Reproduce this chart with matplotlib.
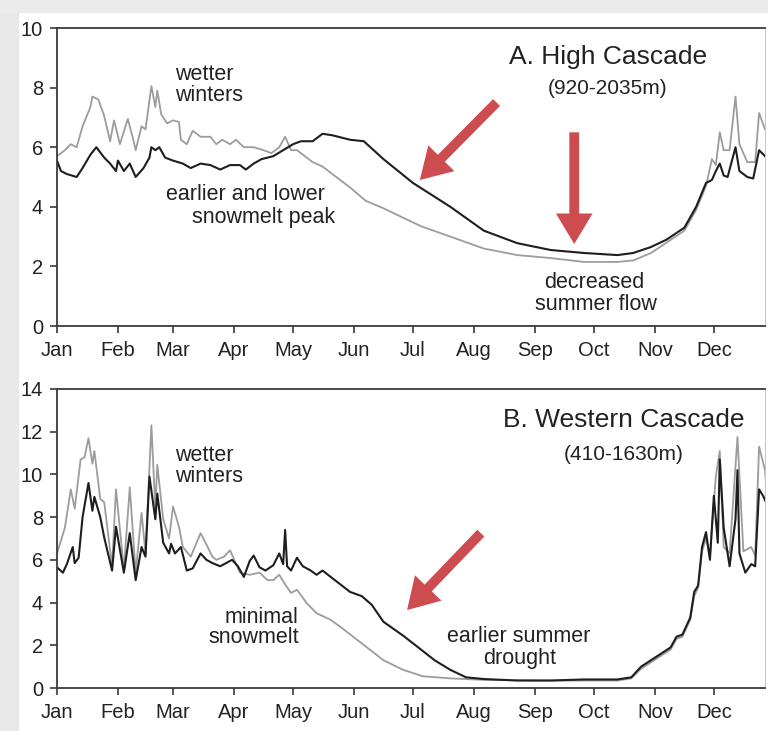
import numpy as np
import matplotlib.pyplot as plt
from matplotlib.patches import Rectangle

plt.rcParams['font.family'] = ['Liberation Sans', 'DejaVu Sans']

# month tick positions (day of year) and labels
month_days = [0, 31, 59, 90, 120, 151, 181, 212, 243, 273, 304, 334]
month_labels = ["Jan", "Feb", "Mar", "Apr", "May", "Jun",
                "Jul", "Aug", "Sep", "Oct", "Nov", "Dec"]

# A. High Cascade - wetter (grey) series
a_wet_day = [0, 4, 7, 10, 13, 17, 18, 21, 24, 27, 29, 32, 36, 39, 40, 43, 45, 48, 50, 51,
             53, 56, 59, 62, 63, 66, 69, 73, 78, 81, 84, 88, 91, 95, 100, 105, 109, 113, 116, 119,
             122, 126, 130, 135, 140, 149, 157, 166, 185, 200, 217, 234, 251, 268, 285, 293, 302, 310, 319, 325,
             330, 333, 335, 337, 339, 342, 345, 347, 351, 355, 357, 360]
a_wet_val = [5.7, 5.9, 6.1, 6.0, 6.7, 7.35, 7.7, 7.6, 7.05, 6.2, 6.9, 6.1, 6.95, 6.2, 5.9, 6.7, 6.6, 8.05, 7.35, 7.9,
             7.1, 6.8, 6.9, 6.85, 6.25, 6.1, 6.55, 6.35, 6.35, 6.1, 6.25, 6.1, 6.25, 6.0, 6.0, 5.9, 5.8, 6.0, 6.35, 5.9,
             5.9, 5.7, 5.5, 5.35, 5.1, 4.65, 4.2, 3.95, 3.35, 3.0, 2.6, 2.38, 2.28, 2.15, 2.15, 2.2, 2.45, 2.8, 3.2, 3.9,
             4.7, 5.6, 5.4, 6.5, 5.9, 5.9, 7.7, 6.1, 5.5, 5.5, 7.15, 6.6]

# A. High Cascade - historic (black) series
a_hist_day = [0, 2, 5, 10, 13, 17, 20, 24, 27, 30, 31, 34, 37, 40, 44, 47, 48, 50, 52, 55,
              59, 64, 68, 73, 78, 83, 88, 93, 96, 100, 104, 110, 115, 120, 124, 130, 135, 140, 149, 156,
              161, 166, 181, 200, 217, 234, 251, 268, 285, 293, 302, 310, 319, 325, 330, 333, 335, 337, 339, 341,
              345, 347, 351, 354, 357, 360]
a_hist_val = [5.55, 5.2, 5.1, 5.0, 5.3, 5.75, 6.0, 5.65, 5.45, 5.2, 5.55, 5.2, 5.45, 5.0, 5.3, 5.65, 6.0, 5.9, 6.0, 5.65,
              5.55, 5.45, 5.3, 5.45, 5.4, 5.25, 5.4, 5.4, 5.25, 5.45, 5.6, 5.7, 5.9, 6.1, 6.2, 6.2, 6.45, 6.4, 6.25, 6.2,
              5.9, 5.6, 4.8, 4.0, 3.2, 2.78, 2.55, 2.45, 2.38, 2.45, 2.65, 2.9, 3.3, 4.0, 4.8, 4.9, 5.2, 5.45, 5.05, 5.0,
              6.0, 5.2, 5.0, 4.95, 5.9, 5.7]

# B. Western Cascade - wetter (grey) series
b_wet_day = [0, 4, 7, 9, 12, 14, 16, 18, 19, 22, 24, 28, 30, 34, 37, 40, 43, 45, 48, 50,
             51, 54, 57, 59, 62, 64, 68, 73, 75, 79, 81, 85, 88, 93, 98, 103, 107, 110, 113, 116,
             119, 122, 127, 132, 139, 145, 152, 159, 166, 176, 186, 200, 217, 250, 285, 292, 297, 302, 307, 312,
             315, 318, 322, 324, 326, 328, 330, 332, 335, 337, 339, 342, 346, 349, 353, 355, 357, 360, 362]
b_wet_val = [6.3, 7.5, 9.3, 8.4, 10.7, 10.8, 11.7, 10.5, 11.1, 8.85, 8.7, 5.7, 9.3, 5.55, 9.4, 5.4, 8.2, 6.3, 12.3, 8.4,
             10.45, 7.9, 7.0, 8.5, 7.55, 6.6, 6.15, 7.25, 6.9, 6.15, 6.0, 6.15, 6.45, 5.4, 5.3, 5.4, 5.05, 5.05, 5.3, 4.85,
             4.45, 4.6, 3.97, 3.5, 3.2, 2.8, 2.3, 1.8, 1.3, 0.85, 0.55, 0.45, 0.38, 0.35, 0.35, 0.45, 0.9, 1.2, 1.5, 1.8,
             2.3, 2.4, 3.2, 4.3, 4.7, 6.4, 7.0, 6.2, 9.9, 11.1, 6.6, 6.3, 11.75, 6.4, 6.6, 6.2, 11.3, 10.2, 7.8]

# B. Western Cascade - historic (black) series
b_hist_day = [0, 3, 5, 8, 9, 11, 13, 16, 18, 19, 22, 24, 28, 30, 34, 37, 40, 43, 45, 47,
              50, 51, 54, 57, 58, 60, 63, 66, 69, 73, 76, 79, 83, 86, 89, 92, 95, 98, 100, 103,
              106, 110, 113, 115, 116, 117, 119, 122, 125, 129, 132, 135, 142, 149, 155, 160, 166, 176, 183, 192,
              200, 208, 217, 234, 251, 268, 285, 292, 297, 302, 307, 312, 315, 318, 322, 324, 326, 328, 330, 332,
              334, 336, 337, 339, 342, 345, 346, 347, 350, 353, 355, 357, 359, 362]
b_hist_val = [5.65, 5.4, 5.8, 6.6, 5.85, 6.1, 8.0, 9.6, 8.3, 8.95, 8.0, 7.05, 5.5, 7.55, 5.4, 7.25, 5.05, 6.6, 6.15, 9.9,
              7.9, 9.1, 6.8, 6.3, 6.75, 6.3, 6.6, 5.5, 5.6, 6.3, 6.0, 5.85, 5.7, 5.85, 6.0, 5.7, 5.2, 5.95, 6.2, 5.65,
              5.5, 5.75, 6.3, 5.8, 7.4, 5.7, 5.5, 6.1, 5.7, 5.5, 5.3, 5.5, 5.0, 4.5, 4.3, 3.9, 3.1, 2.45, 1.95, 1.3,
              0.85, 0.5, 0.42, 0.35, 0.35, 0.4, 0.4, 0.5, 1.0, 1.3, 1.6, 1.9, 2.4, 2.5, 3.3, 4.5, 4.8, 6.6, 7.3, 6.0,
              9.0, 6.8, 10.7, 7.5, 5.7, 7.9, 10.2, 6.3, 5.4, 5.8, 5.7, 9.3, 9.0, 8.4]

GREY = "#9c9c9c"
BLACK = "#1e1e1e"
RED = "#c8383c"
FRAME = "#3a3a3a"

fig = plt.figure(figsize=(7.68, 7.31), dpi=100, facecolor="white")
# faint grey border of the scanned slide
fig.patches.append(Rectangle((0, 0), 18 / 768, 1, transform=fig.transFigure,
                             color="#e8e8e8", zorder=-10))
fig.patches.append(Rectangle((0, 1 - 12 / 731), 1, 12 / 731, transform=fig.transFigure,
                             color="#ebebeb", zorder=-10))

ax1 = fig.add_axes([57 / 768, 1 - 326 / 731, 708 / 768, 298 / 731])
ax2 = fig.add_axes([57 / 768, 1 - 688 / 731, 708 / 768, 299 / 731])


def style(ax, ymax):
    ax.set_xlim(0, 360)
    ax.set_ylim(0, ymax)
    ax.set_xticks(month_days)
    ax.set_xticklabels(month_labels)
    ax.set_yticks(np.arange(0, ymax + 1, 2))
    for s in ax.spines.values():
        s.set_color(FRAME)
        s.set_linewidth(1.3)
    ax.spines["right"].set_linewidth(0.6)
    ax.spines["right"].set_color("#bbbbbb")
    ax.tick_params(direction="out", length=5, width=1.2, color=FRAME,
                   labelsize=14.5, labelcolor="#222222")
    ax.tick_params(axis="x", pad=6)
    ax.tick_params(axis="y", pad=5)


def arrow(ax, tail, tip):
    ax.annotate("", xy=tip, xytext=tail,
                arrowprops=dict(arrowstyle="simple,head_width=1.2,head_length=1.0,tail_width=0.32",
                                mutation_scale=22, color=RED, alpha=0.9,
                                shrinkA=0, shrinkB=0, lw=0))


# panel A
ax1.plot(a_wet_day, a_wet_val, color=GREY, lw=1.3)
ax1.plot(a_hist_day, a_hist_val, color=BLACK, lw=1.5)
style(ax1, 10)
txt = dict(fontsize=15.5, color="#222222")
ax1.text(60, 8.1, "wetter\nwinters", ha="left", va="center", linespacing=1.0, **txt)
ax1.text(96, 4.4, "earlier and lower", ha="center", va="center", **txt)
ax1.text(105, 3.65, "snowmelt peak", ha="center", va="center", **txt)
ax1.text(273, 1.45, "decreased", ha="center", va="center", **txt)
ax1.text(274, 0.72, "summer flow", ha="center", va="center", **txt)
ax1.text(280, 9.03, "A. High Cascade", ha="center", va="center", fontsize=19, color="#222222")
ax1.text(280, 7.98, "(920-2035m)", ha="center", va="center", fontsize=15, color="#222222")
arrow(ax1, (223.5, 7.5), (184.5, 4.9))
arrow(ax1, (263, 6.5), (263, 2.75))

# panel B
ax2.plot(b_wet_day, b_wet_val, color=GREY, lw=1.3)
ax2.plot(b_hist_day, b_hist_val, color=BLACK, lw=1.5)
style(ax2, 14)
ax2.text(60, 10.4, "wetter\nwinters", ha="left", va="center", linespacing=1.0, **txt)
ax2.text(123, 3.3, "minimal", ha="right", va="center", **txt)
ax2.text(123, 2.35, "snowmelt", ha="right", va="center", **txt)
ax2.text(235, 2.4, "earlier summer", ha="center", va="center", **txt)
ax2.text(235, 1.4, "drought", ha="center", va="center", **txt)
ax2.text(288, 12.55, "B. Western Cascade", ha="center", va="center", fontsize=19, color="#222222")
ax2.text(288, 10.95, "(410-1630m)", ha="center", va="center", fontsize=15, color="#222222")
arrow(ax2, (215.5, 7.25), (178, 3.65))

fig.savefig("out.png", dpi=100, facecolor=fig.get_facecolor())
